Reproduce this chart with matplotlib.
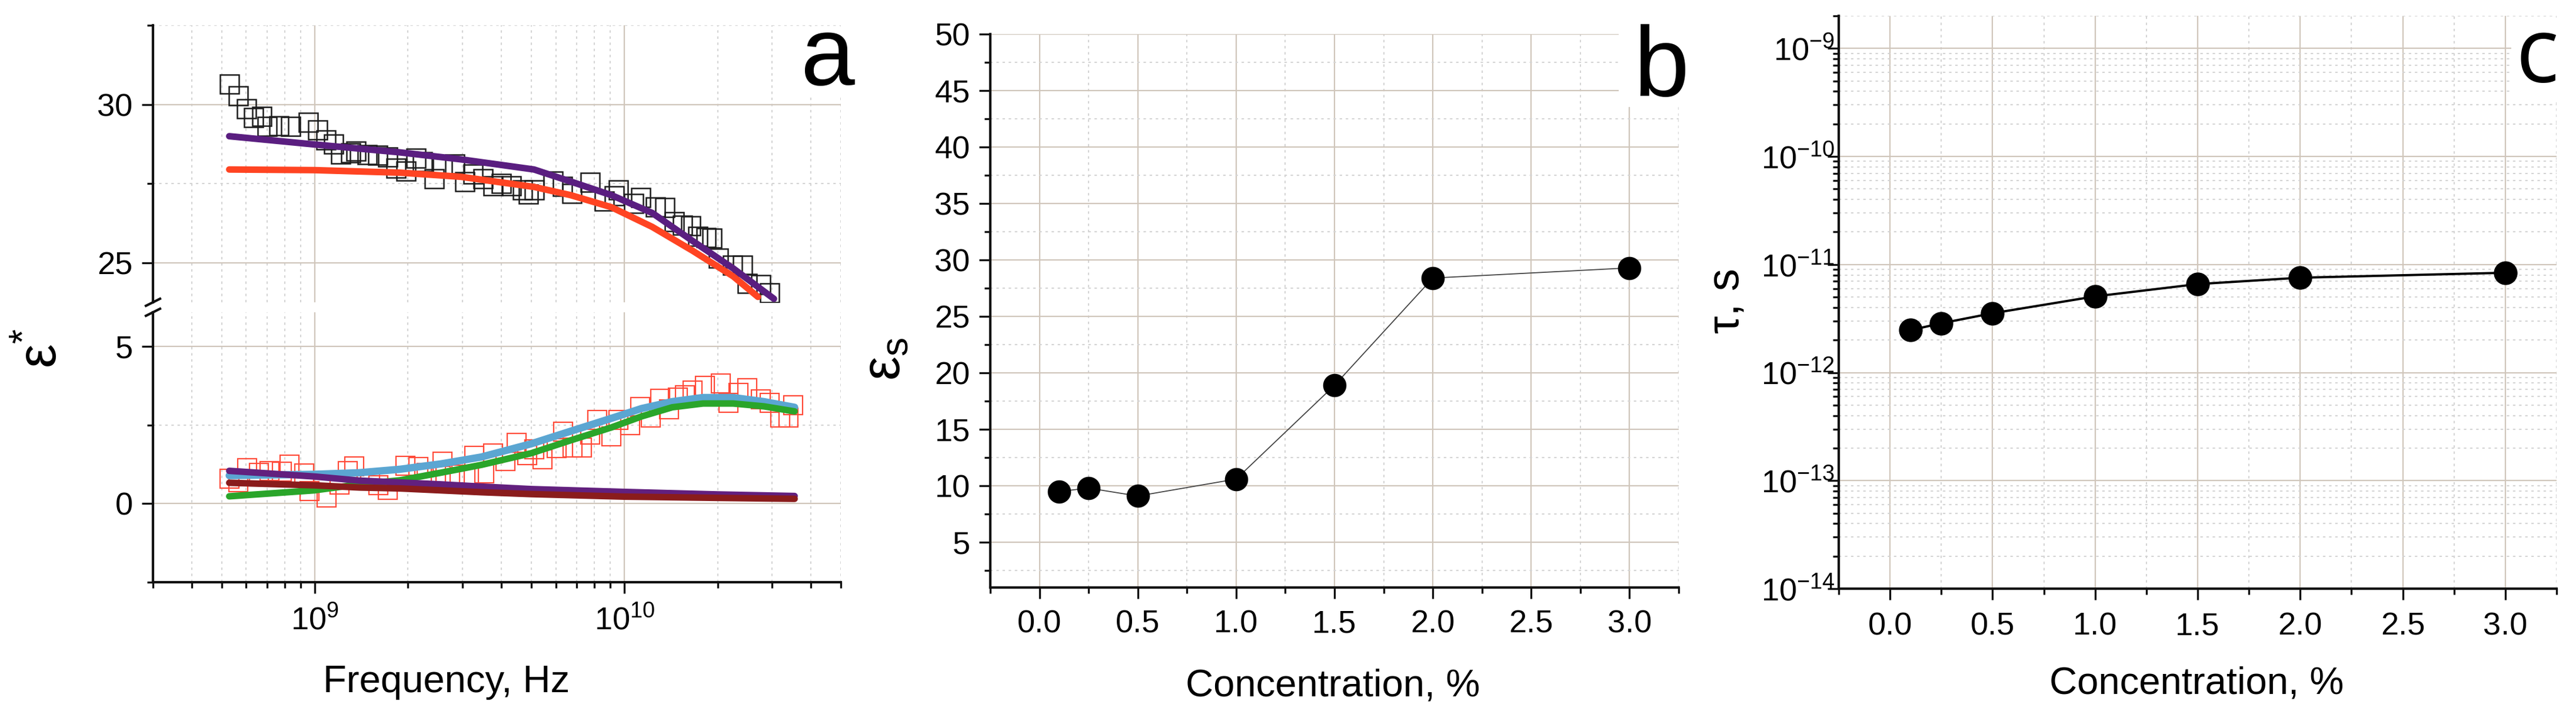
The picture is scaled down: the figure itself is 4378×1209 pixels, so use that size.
import numpy as np
import matplotlib
matplotlib.use('Agg')
import matplotlib.pyplot as plt
from matplotlib.ticker import (FixedLocator, FixedFormatter, MultipleLocator,
                               LogLocator, NullFormatter, FormatStrFormatter)
from matplotlib.lines import Line2D
from matplotlib.patches import Rectangle

plt.rcParams['font.family'] = ['Liberation Sans', 'DejaVu Sans']
plt.rcParams['mathtext.fontset'] = 'custom'
plt.rcParams['mathtext.rm'] = 'Liberation Sans'
plt.rcParams['mathtext.it'] = 'Liberation Sans:italic'
plt.rcParams['mathtext.default'] = 'regular'

# ---------------- data ----------------
# panel a: real part (black squares), GHz
eps1_freq_ghz = [0.531, 0.567, 0.601, 0.633, 0.673, 0.700, 0.765, 0.835, 0.953, 1.022,
                 1.087, 1.151, 1.213, 1.307, 1.360, 1.478, 1.594, 1.717, 1.826, 1.967,
                 2.120, 2.225, 2.429, 2.584, 2.834, 3.053, 3.247, 3.499, 3.771, 4.010,
                 4.320, 4.675, 4.886, 5.105, 5.876, 6.305, 6.764, 7.752, 8.612, 9.281,
                 9.570, 10.73, 11.31, 12.57, 13.54, 14.47, 15.38, 16.36, 17.25, 18.34,
                 19.16, 20.11, 22.35, 24.08, 24.94, 27.60, 29.48]
eps1_vals = [30.65, 30.28, 29.87, 29.59, 29.63, 29.30, 29.33, 29.30, 29.44, 29.19,
             28.89, 28.76, 28.44, 28.48, 28.52, 28.41, 28.39, 28.35, 28.00, 27.90,
             28.31, 28.19, 27.65, 28.04, 28.13, 27.56, 27.81, 27.65, 27.43, 27.50,
             27.43, 27.30, 27.17, 27.31, 27.59, 27.41, 27.19, 27.54, 26.96, 27.11,
             27.31, 26.87, 27.06, 26.76, 26.74, 26.31, 26.20, 26.17, 25.83, 25.81,
             25.78, 25.15, 24.93, 24.93, 24.35, 24.32, 24.06]

# panel a: imaginary part (red squares), GHz
eps2_freq_ghz = [0.529, 0.565, 0.603, 0.659, 0.713, 0.782, 0.828, 0.924, 0.961, 1.092,
                 1.203, 1.279, 1.342, 1.511, 1.607, 1.717, 1.959, 2.158, 2.295, 2.550,
                 2.584, 2.834, 3.148, 3.275, 3.529, 3.771, 4.135, 4.475, 4.843, 5.105,
                 5.429, 6.033, 6.333, 6.794, 7.289, 7.752, 8.171, 9.078, 9.570, 10.45,
                 11.26, 12.19, 13.02, 13.96, 14.85, 15.66, 16.58, 18.18, 20.47, 21.67,
                 23.35, 24.94, 27.60, 29.48, 31.90, 33.92, 35.14]
eps2_vals = [0.79, 0.67, 1.13, 0.98, 1.04, 1.01, 1.23, 0.95, 0.39, 0.20,
             0.61, 1.04, 1.18, 0.73, 0.59, 0.43, 1.20, 1.17, 0.98, 0.89,
             1.34, 0.92, 0.89, 1.51, 0.95, 1.59, 1.36, 1.93, 1.54, 1.73,
             1.40, 1.76, 2.29, 1.79, 1.79, 2.20, 2.65, 2.14, 2.66, 2.49,
             3.07, 2.74, 3.33, 2.99, 3.37, 3.45, 3.60, 3.75, 3.81, 3.21,
             3.51, 3.66, 3.31, 3.21, 2.73, 2.74, 3.12]

# fitted curves
fit1_total_freq_ghz = [0.529, 0.996, 1.883, 2.961, 5.105, 6.705, 9.08, 12.29, 16.58, 22.45, 30.4]
fit1_total_vals = [29.0, 28.74, 28.49, 28.27, 27.95, 27.57, 27.14, 26.58, 25.70, 24.83, 23.87]
fit1_main_freq_ghz = [0.529, 0.996, 1.883, 2.961, 5.105, 6.705, 9.08, 12.29, 16.58, 22.45, 27.0]
fit1_main_vals = [27.95, 27.93, 27.85, 27.72, 27.40, 27.14, 26.76, 26.14, 25.39, 24.58, 23.93]

fit2_freq_ghz = [0.529, 0.996, 1.390, 1.883, 2.550, 3.452, 5.0, 6.705, 9.08, 11.36,
                 14.27, 17.94, 22.45, 28.2, 35.45]
fit2_total_vals = [0.89, 0.93, 0.98, 1.09, 1.26, 1.48, 1.90, 2.30, 2.71, 3.02,
                   3.24, 3.37, 3.37, 3.24, 3.06]
fit2_main_vals = [0.23, 0.42, 0.61, 0.74, 0.98, 1.23, 1.60, 2.01, 2.42, 2.77,
                  3.06, 3.18, 3.18, 3.09, 2.93]
fit2_low_freq_ghz = [0.529, 0.996, 1.390, 1.883, 2.550, 3.452, 5.0, 10.0, 20.0, 35.45]
fit2_cond_vals = [1.04, 0.86, 0.73, 0.67, 0.61, 0.54, 0.46, 0.37, 0.29, 0.24]
fit2_second_vals = [0.66, 0.58, 0.51, 0.48, 0.42, 0.36, 0.30, 0.22, 0.18, 0.15]

# panels b, c
concentration = [0.1, 0.25, 0.5, 1.0, 1.5, 2.0, 3.0]
eps_s = [9.5, 9.8, 9.1, 10.6, 18.9, 28.4, 29.3]
tau = [2.47e-12, 2.86e-12, 3.54e-12, 5.07e-12, 6.59e-12, 7.55e-12, 8.39e-12]

x_major_a = [1e9, 1e10]
x_major_a_labels = ['$10^{9}$', '$10^{10}$']
conc_ticklabels_fmt = '%.1f'

# ---------------- figure ----------------
W, H = 4378, 1209
DPI = 100
fig = plt.figure(figsize=(W / DPI, H / DPI), dpi=DPI)
fig.patch.set_facecolor('white')


def box(l, t, r, b):
    return [l / W, 1 - b / H, (r - l) / W, (b - t) / H]


MAJ_GRID = dict(color='#d0c6bb', lw=1.6, ls='-')
MIN_GRID = dict(color='#d4d4d4', lw=1.5, ls=(0, (2, 3)))
TICKLS = 39


def style(ax, pad=11):
    for s in ['top', 'right']:
        ax.spines[s].set_visible(False)
    for s in ['left', 'bottom']:
        ax.spines[s].set_linewidth(3)
        ax.spines[s].set_color('#111111')
    ax.tick_params(which='major', direction='out', length=13.7, width=2.4,
                   labelsize=TICKLS, pad=pad, color='#111111')
    ax.tick_params(which='minor', direction='out', length=7.5, width=2.4,
                   color='#111111')
    ax.grid(which='major', **MAJ_GRID)
    ax.grid(which='minor', **MIN_GRID)
    ax.set_axisbelow(True)


# ---------- panel a ----------
axU = fig.add_axes(box(260, 43, 1429, 514))
axL = fig.add_axes(box(260, 531, 1429, 990))
for ax in (axU, axL):
    ax.set_xscale('log')
    ax.set_xlim(3e8, 5e10)
    style(ax)
    ax.xaxis.set_major_locator(FixedLocator(x_major_a))
    ax.xaxis.set_minor_locator(LogLocator(base=10, subs=np.arange(2, 10), numticks=30))
    ax.xaxis.set_minor_formatter(NullFormatter())

axU.set_ylim(23.76, 32.5)
axU.spines['bottom'].set_visible(False)
axU.tick_params(axis='x', which='both', bottom=False, labelbottom=False)
axU.yaxis.set_major_locator(FixedLocator([25, 30]))
axU.yaxis.set_minor_locator(FixedLocator([27.5, 32.5]))
axU.yaxis.set_major_formatter(FormatStrFormatter('%d'))

axL.set_ylim(-2.5, 6.08)
axL.yaxis.set_major_locator(FixedLocator([0, 5]))
axL.yaxis.set_minor_locator(FixedLocator([-2.5, 2.5]))
axL.yaxis.set_major_formatter(FormatStrFormatter('%d'))
axL.xaxis.set_major_formatter(FixedFormatter(x_major_a_labels))
axL.tick_params(axis='x', which='major', pad=15)

f1 = np.array(eps1_freq_ghz) * 1e9
f2 = np.array(eps2_freq_ghz) * 1e9
axU.plot(f1, eps1_vals, ls='none', marker='s', ms=22.5, mfc='none',
         mec='#1c1c1c', mew=1.8, zorder=2)
axU.plot(np.array(fit1_main_freq_ghz) * 1e9, fit1_main_vals, color='#ff4422',
         lw=8, solid_capstyle='round', zorder=3)
axU.plot(np.array(fit1_total_freq_ghz) * 1e9, fit1_total_vals, color='#5a1e80',
         lw=8, solid_capstyle='round', zorder=4)

axL.plot(f2, eps2_vals, ls='none', marker='s', ms=22.5, mfc='none',
         mec='#ff4a38', mew=1.6, zorder=2)
ff = np.array(fit2_freq_ghz) * 1e9
fl = np.array(fit2_low_freq_ghz) * 1e9
axL.plot(ff, fit2_total_vals, color='#5ba6d2', lw=9, solid_capstyle='round', zorder=3)
axL.plot(ff, fit2_main_vals, color='#2aa52a', lw=8, solid_capstyle='round', zorder=4)
axL.plot(fl, fit2_cond_vals, color='#62207e', lw=8, solid_capstyle='round', zorder=5)
axL.plot(fl, fit2_second_vals, color='#8a1c1c', lw=8, solid_capstyle='round', zorder=6)

# axis break marks
for yb in (514, 531):
    fig.add_artist(Line2D([248 / W, 272 / W], [1 - (yb + 6) / H, 1 - (yb - 6) / H],
                          color='#111111', lw=3))

fig.text(72 / W, 1 - 592 / H, r'$ε^{*}$', rotation=90, fontsize=66,
         ha='center', va='center')
fig.text(759 / W, 1 - 1177 / H, 'Frequency, Hz', fontsize=47,
         ha='center', va='baseline')

# ---------- panel b ----------
axB = fig.add_axes(box(1683, 58, 2853, 999))
style(axB)
axB.set_xlim(-0.25, 3.25)
axB.set_ylim(1, 50)
axB.xaxis.set_major_locator(MultipleLocator(0.5))
axB.xaxis.set_minor_locator(MultipleLocator(0.25))
axB.xaxis.set_major_formatter(FormatStrFormatter(conc_ticklabels_fmt))
axB.yaxis.set_major_locator(MultipleLocator(5))
axB.yaxis.set_minor_locator(MultipleLocator(2.5))
axB.yaxis.set_major_formatter(FormatStrFormatter('%d'))
axB.tick_params(axis='x', which='major', pad=13)
axB.plot(concentration, eps_s, color='#444444', lw=1.3, zorder=3)
axB.plot(concentration, eps_s, ls='none', marker='o', ms=27.5, mfc='black',
         mec='black', zorder=4)
fig.text(1505 / W, 1 - 610 / H, r'$ε_{s}$', rotation=90, fontsize=66,
         ha='center', va='center')
fig.text(2265 / W, 1 - 1184 / H, 'Concentration, %', fontsize=47,
         ha='center', va='baseline')

# ---------- panel c ----------
axC = fig.add_axes(box(3125, 27, 4345, 1001))
style(axC)
axC.set_yscale('log')
axC.set_xlim(-0.25, 3.25)
axC.set_ylim(1e-14, 2e-9)
axC.xaxis.set_major_locator(MultipleLocator(0.5))
axC.xaxis.set_minor_locator(MultipleLocator(0.25))
axC.xaxis.set_major_formatter(FormatStrFormatter(conc_ticklabels_fmt))
axC.yaxis.set_major_locator(LogLocator(base=10, numticks=20))
axC.yaxis.set_minor_locator(LogLocator(base=10, subs=np.arange(2, 10), numticks=40))
axC.yaxis.set_minor_formatter(NullFormatter())
axC.tick_params(axis='y', which='major', pad=-9)
axC.tick_params(axis='x', which='major', pad=15)
axC.plot(concentration, tau, color='black', lw=2.8, zorder=3)
axC.plot(concentration, tau, ls='none', marker='o', ms=28, mfc='black',
         mec='black', zorder=4)
fig.text(2935 / W, 1 - 512 / H, 'τ, s', rotation=90, fontsize=55,
         ha='center', va='center')
fig.text(3733 / W, 1 - 1180 / H, 'Concentration, %', fontsize=47,
         ha='center', va='baseline')

# ---------- panel letters ----------
for (l, t, r, b) in [(1355, 45, 1440, 165), (2751, 30, 2872, 182), (4268, 30, 4360, 168)]:
    fig.add_artist(Rectangle((l / W, 1 - b / H), (r - l) / W, (b - t) / H,
                             transform=fig.transFigure, facecolor='white',
                             edgecolor='none', zorder=5))
fig.text(1407 / W, 1 - 144 / H, 'a', fontsize=119, ha='center', va='baseline', zorder=6)
fig.text(2823 / W, 1 - 163 / H, 'b', fontsize=122, ha='center', va='baseline', zorder=6)
fig.text(4312 / W, 1 - 140 / H, 'c', fontsize=110, ha='center', va='baseline',
         family=['Open Sans', 'DejaVu Sans'], zorder=6)

fig.savefig('out.png', dpi=DPI, facecolor='white')
